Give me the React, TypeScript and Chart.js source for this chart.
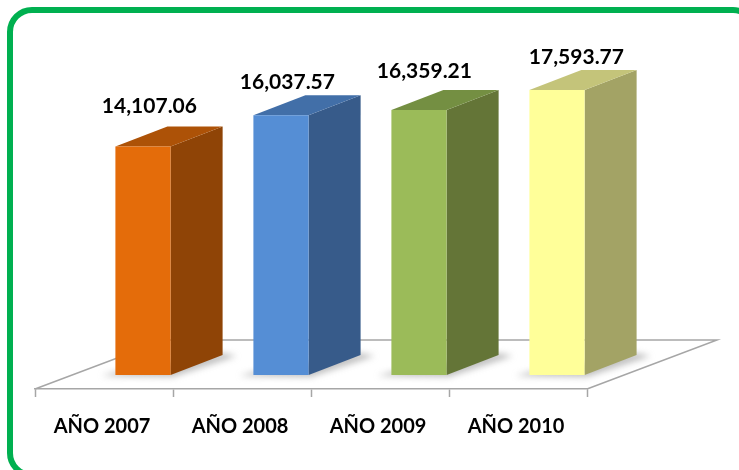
import React, { useEffect, useRef } from "react";
import { Chart, registerables } from "chart.js";

Chart.register(...registerables);

const categories = ["AÑO 2007", "AÑO 2008", "AÑO 2009", "AÑO 2010"];
const values = [14107.06, 16037.57, 16359.21, 17593.77];
const frontColors = ["#E46C0A", "#558ED5", "#9BBB59", "#FFFF99"];
const sideColors = ["#8F4406", "#375B8A", "#647537", "#A3A365"];
const topColors = ["#AD5207", "#426FA8", "#748F42", "#C4C47A"];
const valueFormat = new Intl.NumberFormat("en-US", { minimumFractionDigits: 2, maximumFractionDigits: 2 });

// Oblique projection of the chart (pixels)
const FLOOR_DX = 130;
const FLOOR_DY = -49;
const BAR_SHIFT_X = 39;
const BAR_SHIFT_Y = -14;
const BAR_DX = 52;
const BAR_DY = -20;
const labelNudge = [
  { x: 34, y: -40 },
  { x: 34, y: -33 },
  { x: 33, y: -39 },
  { x: 47, y: -33 },
];

const poly = (ctx: CanvasRenderingContext2D, pts: number[][], fill: string) => {
  ctx.beginPath();
  pts.forEach(([x, y], i) => (i ? ctx.lineTo(x, y) : ctx.moveTo(x, y)));
  ctx.closePath();
  ctx.fillStyle = fill;
  ctx.fill();
};

const scene3d = {
  id: "scene3d",
  beforeDraw(chart: any) {
    const ctx = chart.ctx as CanvasRenderingContext2D;
    ctx.save();
    ctx.fillStyle = "#fff";
    ctx.fillRect(0, 0, chart.width, chart.height);
    ctx.strokeStyle = "#00B050";
    ctx.lineWidth = 6;
    ctx.beginPath();
    ctx.roundRect(10, 10, 745, 465, 22);
    ctx.stroke();
    ctx.restore();
  },
  beforeDatasetsDraw(chart: any) {
    const ctx = chart.ctx as CanvasRenderingContext2D;
    const { left, right, bottom } = chart.chartArea;
    ctx.save();
    // floor outline
    ctx.strokeStyle = "#A6A6A6";
    ctx.lineWidth = 1.5;
    ctx.beginPath();
    ctx.moveTo(left, bottom);
    ctx.lineTo(left + FLOOR_DX, bottom + FLOOR_DY);
    ctx.lineTo(right + FLOOR_DX, bottom + FLOOR_DY);
    ctx.lineTo(right, bottom);
    ctx.stroke();
    ctx.restore();

    const els = chart.getDatasetMeta(0).data;
    // floor shadows
    ctx.save();
    ctx.filter = "blur(3px)";
    els.forEach((el: any) => {
      const x0 = el.x - el.width / 2 + BAR_SHIFT_X;
      const x1 = el.x + el.width / 2 + BAR_SHIFT_X;
      const b = el.base + BAR_SHIFT_Y;
      poly(ctx, [
        [x0 - 14, b + 1],
        [x1 + 2, b + 2],
        [x1 + BAR_DX + 14, b + BAR_DY + 1],
        [x1 + BAR_DX, b + BAR_DY - 2],
        [x0, b - 3],
      ], "rgba(130,130,130,0.5)");
    });
    ctx.restore();

    // side and top faces
    ctx.save();
    els.forEach((el: any, i: number) => {
      const x0 = el.x - el.width / 2 + BAR_SHIFT_X;
      const x1 = el.x + el.width / 2 + BAR_SHIFT_X;
      const b = el.base + BAR_SHIFT_Y;
      const t = el.y + BAR_SHIFT_Y;
      poly(ctx, [[x1, t], [x1 + BAR_DX, t + BAR_DY], [x1 + BAR_DX, b + BAR_DY], [x1, b]], sideColors[i]);
      poly(ctx, [[x0, t], [x0 + BAR_DX, t + BAR_DY], [x1 + BAR_DX, t + BAR_DY], [x1, t]], topColors[i]);
    });
    ctx.restore();
  },
  beforeDatasetDraw(chart: any) {
    chart.ctx.save();
    chart.ctx.translate(BAR_SHIFT_X, BAR_SHIFT_Y);
  },
  afterDatasetDraw(chart: any) {
    chart.ctx.restore();
  },
  afterDatasetsDraw(chart: any) {
    const ctx = chart.ctx as CanvasRenderingContext2D;
    const els = chart.getDatasetMeta(0).data;
    ctx.save();
    ctx.font = "bold 21px Lato";
    ctx.fillStyle = "#000";
    ctx.textAlign = "center";
    ctx.textBaseline = "middle";
    els.forEach((el: any, i: number) => {
      const x0 = el.x - el.width / 2 + BAR_SHIFT_X;
      const t = el.y + BAR_SHIFT_Y;
      ctx.fillText(valueFormat.format(values[i]), x0 + labelNudge[i].x, t + labelNudge[i].y);
    });
    ctx.restore();
  },
};

export default function App() {
  const ref = useRef<HTMLCanvasElement>(null);
  useEffect(() => {
    const chart = new Chart(ref.current!, {
      type: "bar",
      data: {
        labels: categories,
        datasets: [
          {
            data: values,
            backgroundColor: frontColors,
            borderWidth: 0,
            barPercentage: 0.4,
            categoryPercentage: 1,
            clip: false as any,
          },
        ],
      },
      options: {
        animation: false,
        responsive: false,
        layout: { padding: { left: 35, right: 152, top: 65, bottom: 0 } },
        plugins: { legend: { display: false }, tooltip: { enabled: false } },
        scales: {
          x: {
            offset: true,
            afterFit: (s: any) => {
              s.height = 81;
            },
            grid: { drawOnChartArea: false, drawTicks: true, tickLength: 8, tickColor: "#A6A6A6", tickWidth: 1.5 },
            border: { display: true, color: "#A6A6A6", width: 1.5 },
            ticks: {
              padding: 18,
              labelOffset: -2,
              autoSkip: false,
              maxRotation: 0,
              color: "#000",
              font: { family: "Lato", size: 20, weight: "bold" },
            },
          },
          y: { display: false, min: 0, max: 20000 },
        },
      },
      plugins: [scene3d],
    });
    return () => chart.destroy();
  }, []);
  return (
    <div style={{ position: "fixed", left: 0, top: 0, width: 739, height: 470 }}>
      <canvas ref={ref} width={739} height={470} style={{ display: "block" }} />
    </div>
  );
}
